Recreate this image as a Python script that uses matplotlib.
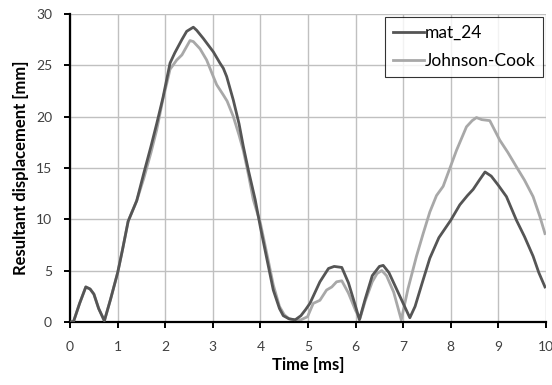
import matplotlib
matplotlib.use("Agg")
import matplotlib.pyplot as plt

t_mat = [0, 0.07, 0.2, 0.33, 0.42, 0.5, 0.6, 0.72, 0.85, 1.0, 1.1, 1.22, 1.4, 1.55, 1.7, 1.82, 1.95,
         2.1, 2.2, 2.35, 2.45, 2.59, 2.66, 2.8, 3.01, 3.15, 3.22, 3.29, 3.43, 3.55, 3.64, 3.75, 3.89,
         4.0, 4.15, 4.27, 4.4, 4.48, 4.6, 4.73, 4.85, 4.95, 5.04, 5.11, 5.25, 5.43, 5.55, 5.71, 5.85,
         6.0, 6.08, 6.2, 6.35, 6.5, 6.58, 6.7, 6.85, 7.0, 7.07, 7.14, 7.25, 7.4, 7.56, 7.75, 8.0, 8.19,
         8.35, 8.47, 8.6, 8.72, 8.85, 9.0, 9.17, 9.38, 9.55, 9.73, 9.85, 9.98]
y_mat = [0, 0, 1.8, 3.4, 3.2, 2.7, 1.3, 0.1, 2.2, 4.8, 7.0, 9.8, 11.8, 14.5, 17.1, 19.3, 21.8,
         25.2, 26.2, 27.5, 28.3, 28.7, 28.4, 27.6, 26.3, 25.2, 24.7, 23.9, 21.6, 19.3, 17.1, 14.7, 11.9,
         9.2, 5.8, 3.1, 1.3, 0.6, 0.3, 0.2, 0.6, 1.2, 1.8, 2.5, 3.9, 5.2, 5.4, 5.3, 3.8,
         1.5, 0.2, 2.2, 4.5, 5.4, 5.5, 4.8, 3.3, 1.8, 1.1, 0.4, 1.5, 3.8, 6.2, 8.2, 9.9, 11.4,
         12.3, 12.9, 13.8, 14.6, 14.2, 13.3, 12.2, 9.9, 8.3, 6.4, 4.8, 3.4]

t_jc = [0, 0.07, 0.2, 0.33, 0.42, 0.5, 0.6, 0.72, 0.85, 1.0, 1.1, 1.22, 1.4, 1.55, 1.7, 1.82, 1.96,
        2.03, 2.1, 2.24, 2.35, 2.52, 2.59, 2.73, 2.87, 3.0, 3.08, 3.22, 3.3, 3.43, 3.55, 3.64, 3.75,
        3.85, 4.0, 4.15, 4.27, 4.4, 4.5, 4.6, 4.7, 4.85, 4.99, 5.11, 5.25, 5.39, 5.5, 5.6, 5.71, 5.85,
        6.0, 6.09, 6.2, 6.35, 6.45, 6.55, 6.65, 6.8, 6.96, 7.1, 7.28, 7.42, 7.56, 7.7, 7.84, 8.0, 8.12,
        8.33, 8.45, 8.54, 8.65, 8.82, 9.03, 9.2, 9.38, 9.55, 9.73, 9.87, 9.98]
y_jc = [0, 0, 1.8, 3.4, 3.2, 2.7, 1.3, 0.1, 2.2, 4.8, 7.0, 9.8, 11.8, 14.0, 16.5, 18.7, 21.9,
        23.2, 24.6, 25.5, 26.0, 27.4, 27.3, 26.6, 25.5, 24.0, 23.1, 22.1, 21.5, 20.0, 18.2, 16.7, 14.3,
        11.9, 9.6, 6.3, 3.6, 1.5, 0.7, 0.3, 0.2, 0.2, 0.5, 1.8, 2.1, 3.1, 3.4, 3.9, 4.0, 2.8,
        1.1, 0.3, 2.0, 3.9, 4.7, 5.0, 4.5, 2.9, 0.2, 3.2, 6.4, 8.6, 10.7, 12.3, 13.2, 15.2, 16.7,
        19.0, 19.6, 19.9, 19.7, 19.6, 17.7, 16.5, 15.1, 13.8, 12.2, 10.3, 8.6]

x_ticks = [0, 1, 2, 3, 4, 5, 6, 7, 8, 9, 10]
y_ticks = [0, 5, 10, 15, 20, 25, 30]
series_names = ["mat_24", "Johnson-Cook"]

plt.rcParams['font.family'] = ['Lato', 'DejaVu Sans']

fig = plt.figure(figsize=(5.52, 3.85), dpi=100)
ax = fig.add_axes([0.127, 0.164, 0.862, 0.8])

ax.plot(t_mat, y_mat, color='#555555', lw=2.0, label=series_names[0], zorder=3)
ax.plot(t_jc, y_jc, color='#a8a8a8', lw=2.0, label=series_names[1], zorder=2)

ax.set_xlim(0, 10)
ax.set_ylim(0, 30)
ax.set_xticks(x_ticks)
ax.set_yticks(y_ticks)
ax.grid(True, color='#c0c0c0', lw=1.0)
ax.set_axisbelow(True)
for s in ['top', 'right']:
    ax.spines[s].set_visible(False)
for s in ['left', 'bottom']:
    ax.spines[s].set_linewidth(1.6)
    ax.spines[s].set_color('black')
ax.tick_params(direction='out', length=4, width=1.4, labelsize=10, colors='black',
               labelcolor='#404040')
ax.tick_params(axis='x', pad=10)
ax.tick_params(axis='y', pad=9)
ax.set_xlabel('Time [ms]', fontweight='bold', fontsize=12, labelpad=3)
ax.set_ylabel('Resultant displacement [mm]', fontweight='bold', fontsize=12, labelpad=5)

leg = ax.legend(loc='upper right', bbox_to_anchor=(0.994, 0.99), fontsize=12.5, frameon=True,
                fancybox=False, edgecolor='black', handlelength=1.75, handletextpad=0.05,
                borderpad=0.45, labelspacing=0.72, borderaxespad=0)
leg.get_frame().set_linewidth(0.8)

fig.savefig('out.png', dpi=100)
